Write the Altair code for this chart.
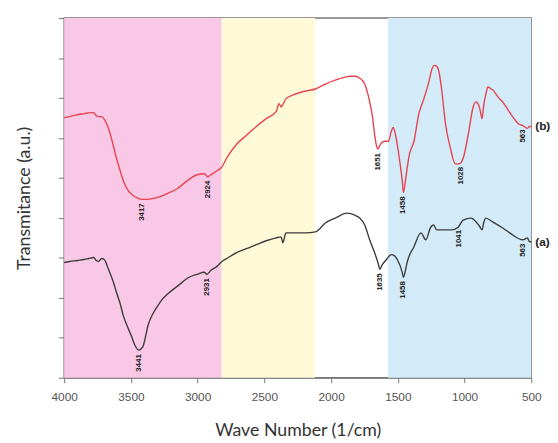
import altair as alt
import pandas as pd

# ---- data ----
wn_b = [4000, 3960, 3900, 3850, 3800, 3780, 3760, 3745, 3720, 3690, 3668, 3640, 3609, 3580, 3557, 3520,
        3483, 3446, 3417, 3380, 3330, 3299, 3225, 3151, 3077, 3003, 2951, 2924, 2900, 2855, 2818, 2782,
        2708, 2634, 2560, 2486, 2412, 2390, 2375, 2339, 2265, 2191, 2117, 2043, 1969, 1896, 1859, 1822,
        1785, 1748, 1711, 1690, 1674, 1659, 1651, 1630, 1600, 1570, 1549, 1534, 1515, 1489, 1467, 1458,
        1438, 1416, 1379, 1342, 1305, 1268, 1245, 1225, 1209, 1194, 1172, 1142, 1106, 1069, 1046, 1028,
        1010, 972, 935, 913, 895, 884, 869, 855, 840, 825, 800, 788, 750, 714, 680, 640, 589, 566, 544,
        529, 514, 500]
t_b = [264, 265, 267, 268, 269, 269, 266, 265, 265, 260, 253, 240, 223, 210, 200, 190,
       185, 182, 181, 181, 182, 183, 187, 192, 200, 206, 207, 204, 206, 210, 214, 223,
       237, 246, 255, 263, 270, 278, 275, 283, 288, 291, 293, 298, 302, 305, 306, 306,
       304, 298, 280, 265, 247, 235, 232, 237, 240, 240, 250, 254, 245, 223, 200, 188,
       205, 225, 240, 268, 283, 300, 313, 317, 316, 312, 293, 257, 233, 217, 217, 218,
       223, 247, 275, 280, 277, 272, 263, 278, 288, 295, 293, 292, 285, 280, 273, 265, 257, 256, 254,
       253, 255, 255]

wn_a = [4000, 3960, 3900, 3850, 3815, 3778, 3760, 3742, 3720, 3700, 3668, 3631, 3609, 3580, 3557, 3520,
        3498, 3470, 3441, 3420, 3409, 3390, 3372, 3335, 3299, 3262, 3225, 3151, 3114, 3077, 3003, 2951,
        2931, 2900, 2855, 2818, 2782, 2708, 2634, 2560, 2486, 2412, 2375, 2361, 2345, 2339, 2265, 2191,
        2117, 2043, 1969, 1881, 1822, 1785, 1748, 1711, 1674, 1645, 1635, 1615, 1585, 1549, 1526, 1504,
        1467, 1458, 1438, 1430, 1379, 1327, 1290, 1253, 1231, 1209, 1157, 1098, 1046, 1041, 1010, 950,
        913, 884, 869, 855, 840, 788, 714, 640, 566, 544, 529, 514, 500]
t_a = [117, 118, 119, 120, 121, 122, 119, 118, 121, 120, 110, 97, 87, 75, 63, 50,
       43, 33, 28, 30, 32, 42, 53, 65, 73, 80, 85, 93, 97, 101, 105, 107,
       105, 109, 113, 118, 121, 127, 131, 135, 139, 142, 143, 137, 145, 147, 147, 147,
       148, 157, 162, 167, 165, 162, 155, 140, 127, 115, 110, 115, 120, 125, 124, 120,
       107, 102, 112, 117, 133, 147, 140, 153, 155, 150, 150, 150, 153, 154, 160, 162,
       158, 153, 150, 158, 162, 158, 152, 145, 140, 141, 142, 138, 138]

band_start = [4000, 2820, 1575]
band_end = [2820, 2120, 500]
band_color = ["#F9C8E6", "#FEFAD8", "#D3EBF8"]

peak_wn_b = [3417, 2924, 1651, 1458, 1028, 563]
peak_t_b = [181, 204, 232, 188, 218, 256]
peak_wn_a = [3441, 2931, 1635, 1458, 1041, 563]
peak_t_a = [28, 105, 110, 102, 154, 140]

series_names = ["(b)", "(a)"]
x_ticks = [4000, 3750, 3500, 3250, 3000, 2750, 2500, 2250, 2000, 1750, 1500, 1250, 1000, 750, 500]

# ---- tables ----
df = pd.concat([
    pd.DataFrame({"wn": wn_b, "t": t_b, "s": "(b)"}),
    pd.DataFrame({"wn": wn_a, "t": t_a, "s": "(a)"}),
])
bands = pd.DataFrame({"x1": band_start, "x2": band_end, "c": band_color})
peaks = pd.concat([
    pd.DataFrame({"wn": peak_wn_b, "t": peak_t_b, "lab": [str(v) for v in peak_wn_b]}),
    pd.DataFrame({"wn": peak_wn_a, "t": peak_t_a, "lab": [str(v) for v in peak_wn_a]}),
])
ends = pd.DataFrame({"wn": [500, 500], "t": [t_b[-1], t_a[-1]], "lab": series_names})

W, H = 474, 365
xs = alt.Scale(domain=[500, 4000], reverse=True, nice=False, zero=False)
ys = alt.Scale(domain=[0, 365], nice=False, zero=True)

x_axis = alt.Axis(title="Wave Number (1/cm)", values=x_ticks, grid=False,
                  labelExpr="datum.value % 500 == 0 ? datum.value : ''",
                  tickSize=5, tickColor="#777777", domainColor="#777777",
                  labelColor="#555555", labelFontSize=12, labelFont="Liberation Sans",
                  labelPadding=9, titleFont="Lato", titleFontSize=18, titleFontWeight="normal",
                  titleColor="#333333", titlePadding=20, labelFlush=False)
y_axis = alt.Axis(title="Transmitance (a.u.)", values=[i * 365 / 9 for i in range(10)],
                  labels=False, grid=False, tickSize=6, tickColor="#777777",
                  domainColor="#777777", titleFont="Lato", titleFontSize=18,
                  titleFontWeight="normal", titleColor="#333333", titlePadding=25)

bg = alt.Chart(bands).mark_rect(stroke=None).encode(
    x=alt.X("x1:Q", scale=xs, axis=x_axis),
    x2="x2:Q",
    y=alt.value(0),
    y2=alt.value(H),
    color=alt.Color("c:N", scale=None, legend=None),
)

lines = alt.Chart(df).mark_line(strokeWidth=1.4, interpolate="monotone").encode(
    x=alt.X("wn:Q", scale=xs),
    y=alt.Y("t:Q", scale=ys, axis=y_axis),
    color=alt.Color("s:N", scale=alt.Scale(domain=["(b)", "(a)"], range=["#E8414F", "#3C3C3C"]),
                    legend=None),
    detail="s:N",
)

peak_text = alt.Chart(peaks).mark_text(angle=270, align="right", baseline="middle", dx=-4,
                                       fontSize=8, fontWeight="bold", font="Liberation Sans",
                                       color="#222222").encode(
    x=alt.X("wn:Q", scale=xs),
    y=alt.Y("t:Q", scale=ys),
    text="lab:N",
)

end_text = alt.Chart(ends).mark_text(align="left", baseline="middle", dx=4, fontSize=12,
                                     fontWeight="bold", font="Liberation Sans",
                                     color="#222222").encode(
    x=alt.X("wn:Q", scale=xs),
    y=alt.Y("t:Q", scale=ys),
    text="lab:N",
)

chart = alt.layer(bg, lines, peak_text, end_text).properties(
    width=W, height=H,
    autosize=alt.AutoSizeParams(type="none"),
    padding={"left": 57, "top": 7, "right": 19, "bottom": 63},
    background="white",
).configure_view(stroke="#777777", strokeWidth=1.5)

chart.save("out.html", embed_options={"renderer": "svg", "actions": False})
